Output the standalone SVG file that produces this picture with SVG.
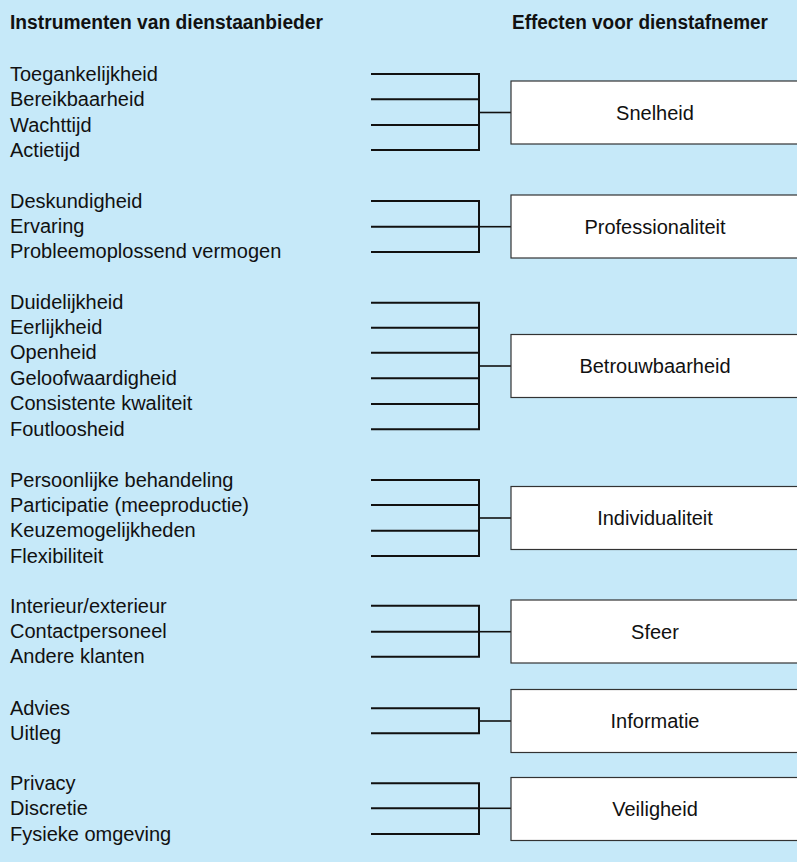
<svg xmlns="http://www.w3.org/2000/svg" width="797" height="862" viewBox="0 0 797 862">
<style>
.bg{fill:#c6e9f9}
.hdr{font-family:"Liberation Sans",Arial,sans-serif;font-weight:bold;font-size:20px;fill:#111}
.lbl{font-family:"Liberation Sans",Arial,sans-serif;font-size:20px;fill:#111}
.box{fill:#fff;stroke:#333;stroke-width:1.2}
.boxt{font-family:"Liberation Sans",Arial,sans-serif;font-size:20px;fill:#111;text-anchor:middle}
.ln{fill:none;stroke:#111;stroke-width:2}
.stub{fill:none;stroke:#111;stroke-width:1.6}
</style>
<rect class="bg" x="0" y="0" width="797" height="862"/>
<text class="hdr" x="10" y="29" textLength="313" lengthAdjust="spacingAndGlyphs">Instrumenten van dienstaanbieder</text>
<text class="hdr" x="512" y="29" textLength="256" lengthAdjust="spacingAndGlyphs">Effecten voor dienstafnemer</text>

<g id="labels">
<text class="lbl" x="10" y="81">Toegankelijkheid</text>
<text class="lbl" x="10" y="106">Bereikbaarheid</text>
<text class="lbl" x="10" y="132">Wachttijd</text>
<text class="lbl" x="10" y="157">Actietijd</text>
<text class="lbl" x="10" y="208">Deskundigheid</text>
<text class="lbl" x="10" y="233">Ervaring</text>
<text class="lbl" x="10" y="258">Probleemoplossend vermogen</text>
<text class="lbl" x="10" y="309">Duidelijkheid</text>
<text class="lbl" x="10" y="334">Eerlijkheid</text>
<text class="lbl" x="10" y="359">Openheid</text>
<text class="lbl" x="10" y="385">Geloofwaardigheid</text>
<text class="lbl" x="10" y="410">Consistente kwaliteit</text>
<text class="lbl" x="10" y="436">Foutloosheid</text>
<text class="lbl" x="10" y="487">Persoonlijke behandeling</text>
<text class="lbl" x="10" y="512">Participatie (meeproductie)</text>
<text class="lbl" x="10" y="537">Keuzemogelijkheden</text>
<text class="lbl" x="10" y="563">Flexibiliteit</text>
<text class="lbl" x="10" y="613">Interieur/exterieur</text>
<text class="lbl" x="10" y="638">Contactpersoneel</text>
<text class="lbl" x="10" y="663">Andere klanten</text>
<text class="lbl" x="10" y="715">Advies</text>
<text class="lbl" x="10" y="740">Uitleg</text>
<text class="lbl" x="10" y="790">Privacy</text>
<text class="lbl" x="10" y="815">Discretie</text>
<text class="lbl" x="10" y="841">Fysieke omgeving</text>
</g>

<g id="connectors">
<path class="ln" d="M371 74H479V150H371M371 99.3H479M371 125H479"/>
<path class="stub" d="M479 112.5H511"/>
<path class="ln" d="M371 201H479V252H371M371 226.7H479"/>
<path class="stub" d="M479 226.7H511"/>
<path class="ln" d="M371 302.7H479V429.3H371M371 327.7H479M371 352.7H479M371 378.3H479M371 404H479"/>
<path class="stub" d="M479 366H511"/>
<path class="ln" d="M371 480H479V556H371M371 505H479M371 530.7H479"/>
<path class="stub" d="M479 518H511"/>
<path class="ln" d="M371 605.7H479V656.7H371M371 631.7H479"/>
<path class="stub" d="M479 631.7H511"/>
<path class="ln" d="M371 708.3H479V733.3H371"/>
<path class="stub" d="M479 721H511"/>
<path class="ln" d="M371 783.3H479V834H371M371 808.3H479"/>
<path class="stub" d="M479 808.3H511"/>
</g>

<g id="snelheid"><rect class="box" x="511" y="81" width="290" height="63"/><text class="boxt" x="655" y="119.5">Snelheid</text></g>
<g id="professionaliteit"><rect class="box" x="511" y="195" width="290" height="63"/><text class="boxt" x="655" y="233.5">Professionaliteit</text></g>
<g id="betrouwbaarheid"><rect class="box" x="511" y="334.5" width="290" height="63"/><text class="boxt" x="655" y="373">Betrouwbaarheid</text></g>
<g id="individualiteit"><rect class="box" x="511" y="486.5" width="290" height="63"/><text class="boxt" x="655" y="525">Individualiteit</text></g>
<g id="sfeer"><rect class="box" x="511" y="600" width="290" height="63"/><text class="boxt" x="655" y="638.5">Sfeer</text></g>
<g id="informatie"><rect class="box" x="511" y="689.5" width="290" height="63"/><text class="boxt" x="655" y="728">Informatie</text></g>
<g id="veiligheid"><rect class="box" x="511" y="777.5" width="290" height="63"/><text class="boxt" x="655" y="816">Veiligheid</text></g>
</svg>
